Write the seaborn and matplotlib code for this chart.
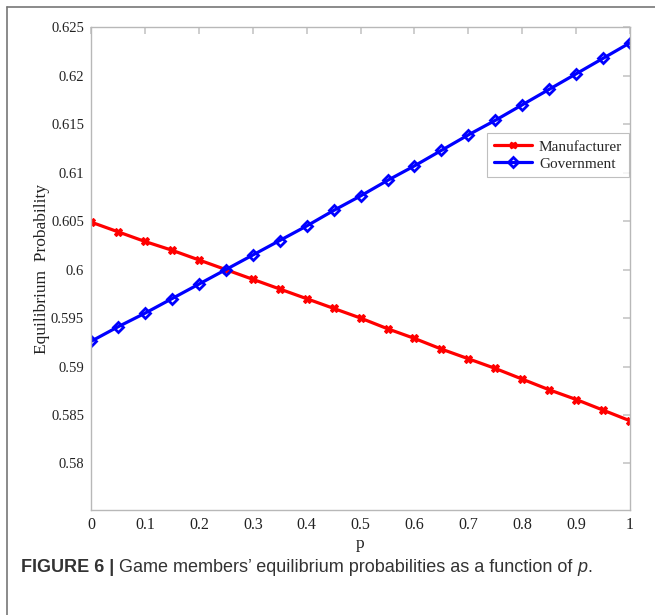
import numpy as np
import pandas as pd
import matplotlib
matplotlib.use("Agg")
import matplotlib.pyplot as plt
import seaborn as sns
from matplotlib.lines import Line2D

sns.set_theme(style="white")
plt.rcParams['font.family'] = ['Liberation Serif', 'DejaVu Serif']

# data
p = [0.0, 0.05, 0.1, 0.15, 0.2, 0.25, 0.3, 0.35, 0.4, 0.45, 0.5,
     0.55, 0.6, 0.65, 0.7, 0.75, 0.8, 0.85, 0.9, 0.95, 1.0]
manufacturer = [0.6049, 0.6039, 0.6029, 0.6020, 0.6010, 0.6000, 0.5990,
                0.5980, 0.5970, 0.5960, 0.5950, 0.5939, 0.5929, 0.5918,
                0.5908, 0.5898, 0.5887, 0.5876, 0.5866, 0.5855, 0.5844]
government = [0.5926, 0.5941, 0.5955, 0.5970, 0.5985, 0.6000, 0.6015,
              0.6030, 0.6045, 0.6061, 0.6076, 0.6092, 0.6107, 0.6123,
              0.6139, 0.6154, 0.6170, 0.6186, 0.6202, 0.6218, 0.6234]
xticks = [0, 0.1, 0.2, 0.3, 0.4, 0.5, 0.6, 0.7, 0.8, 0.9, 1]
yticks = [0.58, 0.585, 0.59, 0.595, 0.6, 0.605, 0.61, 0.615, 0.62, 0.625]
ytick_labels = ['0.58', '0.585', '0.59', '0.595', '0.6', '0.605', '0.61',
                '0.615', '0.62', '0.625']

df = pd.DataFrame({'p': p, 'Manufacturer': manufacturer, 'Government': government})

fig = plt.figure(figsize=(6.55, 6.15), dpi=100)
ax = fig.add_axes([0.139, 0.1707, 0.823, 0.785])

sns.lineplot(data=df, x='p', y='Manufacturer', ax=ax, color='#ff0000',
             linewidth=2.3, marker='X', markersize=6, markeredgecolor='#ff0000',
             markeredgewidth=0.8)
sns.lineplot(data=df, x='p', y='Government', ax=ax, color='#0000ff',
             linewidth=2.3, marker='D', markersize=5.5, markerfacecolor='none',
             markeredgecolor='#0000ff', markeredgewidth=2)

ax.set_xlim(0, 1)
ax.set_ylim(0.5752, 0.625)
ax.set_xticks(xticks)
ax.set_xticklabels([f'{t:g}' for t in xticks])
ax.set_yticks(yticks)
ax.set_yticklabels(ytick_labels)
ax.tick_params(direction='in', length=5, color='#c8c8c8', labelsize=11.5,
               top=True, right=True, labelcolor='#222222', pad=5)
ax.tick_params(axis='y', labelsize=10.5)
for s in ax.spines.values():
    s.set_color('#b8b8b8')
    s.set_linewidth(1.0)

ax.set_xlabel('p', fontsize=12.5, color='#222222', labelpad=2)
ax.set_ylabel('Equilibrium  Probability', fontsize=12.5, color='#222222')
ax.yaxis.set_label_coords(-0.076, 0.5)

handles = [Line2D([], [], color='#ff0000', lw=2.3, marker='X', ms=5),
           Line2D([], [], color='#0000ff', lw=2.3, marker='D', ms=5,
                  mfc='none', mew=2)]
leg = ax.legend(handles, ['Manufacturer', 'Government'], loc='upper right',
                bbox_to_anchor=(0.998, 0.7805), fontsize=11, frameon=True,
                fancybox=False, borderpad=0.45, handlelength=2.5,
                handletextpad=0.45, labelspacing=0.2, borderaxespad=0)
leg.get_frame().set_edgecolor('#b0b0b0')
leg.get_frame().set_linewidth(0.8)

# outer frame lines
fig.add_artist(Line2D([7 / 655, 7 / 655], [0, 1 - 7 / 615], color='#777777', lw=1.2,
                      transform=fig.transFigure))
fig.add_artist(Line2D([7 / 655, 1], [1 - 7 / 615, 1 - 7 / 615], color='#777777', lw=1.2,
                      transform=fig.transFigure))

# caption
cap_fs = 13.0
cap_y = 1 - 568 / 615
t1 = fig.text(21 / 655, cap_y, 'FIGURE 6 |', fontsize=cap_fs, fontweight='bold',
              family=['Liberation Sans'], color='#333333', va='center')
fig.canvas.draw()
bb = t1.get_window_extent()
x2 = (bb.x1 + 5) / fig.bbox.width
t2 = fig.text(x2, cap_y, 'Game members\u2019 equilibrium probabilities as a function of ',
              fontsize=cap_fs, family=['Liberation Sans'], color='#333333', va='center')
fig.canvas.draw()
bb2 = t2.get_window_extent()
t3 = fig.text(bb2.x1 / fig.bbox.width, cap_y, 'p', fontsize=cap_fs, style='italic',
              family=['Liberation Sans'], color='#333333', va='center')
fig.canvas.draw()
bb3 = t3.get_window_extent()
fig.text(bb3.x1 / fig.bbox.width, cap_y, '.', fontsize=cap_fs,
         family=['Liberation Sans'], color='#333333', va='center')

fig.savefig('out.png', dpi=100)
